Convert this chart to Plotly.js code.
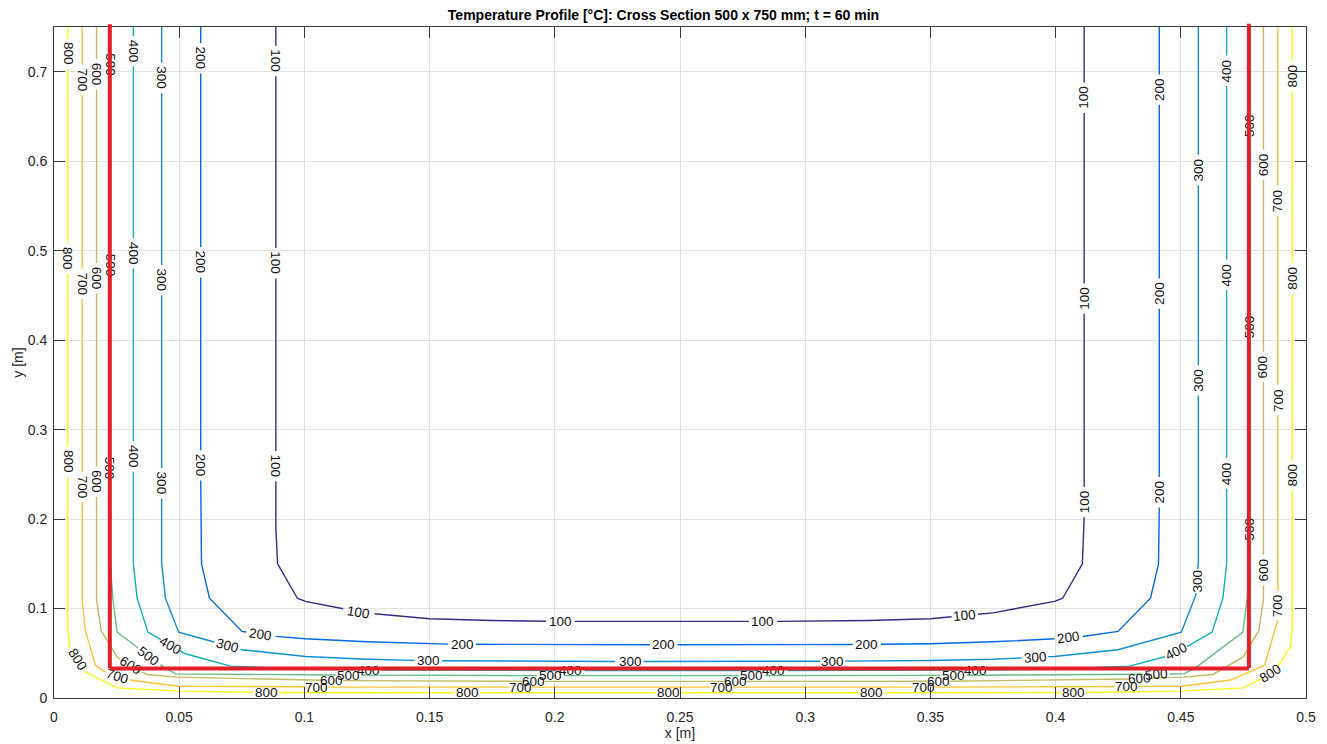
<!DOCTYPE html>
<html><head><meta charset="utf-8">
<script src="https://cdn.plot.ly/plotly-3.0.1.min.js"></script>
<style>html,body{margin:0;padding:0;background:#fff}#chart{width:1327px;height:744px}</style>
</head><body><div id="chart"></div>
<script>
// ---- contour levels [°C] ----
const levels = [100, 200, 300, 400, 500, 600, 700, 800];

// ---- contour line coordinates (m), null = gap under a label ----
const x100 = [0.0886,0.0886,null,0.0886,0.0886,null,0.0886,0.0886,null,0.0886,0.0886,0.0893,0.0972,0.1004,0.1155,null,0.1280,0.15,0.175,0.1965,null,0.2079,0.25,0.2775,null,0.2888,0.325,0.35,0.3585,null,0.3690,0.375,0.3996,0.4028,0.4107,0.4114,0.4114,null,0.4114,0.4114,null,0.4114,0.4114,null,0.4114,0.4114];
const y100 = [0.75,0.729,null,0.695,0.503,null,0.469,0.276,null,0.242,0.19,0.150,0.1115,0.108,0.0997,null,0.0941,0.0886,0.0866,0.0858,null,0.0857,0.0856,0.0857,null,0.0857,0.0866,0.0886,0.0908,null,0.0936,0.0952,0.108,0.1115,0.150,0.19,0.202,null,0.236,0.4295,null,0.4635,0.654,null,0.688,0.75];

const x200 = [0.0586,0.0586,null,0.0586,0.0586,null,0.0586,0.0586,null,0.0586,0.0589,0.0621,0.0751,0.0768,null,0.0885,0.1004,0.125,0.15,0.1575,null,0.1685,0.2,0.238,null,0.249,0.30,0.319,null,0.3303,0.35,0.375,0.3996,null,0.4108,0.4249,0.4379,0.4411,0.4414,null,0.4414,0.4414,null,0.4414,0.4414,null,0.4414,0.4414];
const y200 = [0.75,0.732,null,0.698,0.504,null,0.470,0.277,null,0.243,0.150,0.1115,0.0744,0.0737,null,0.0689,0.0662,0.0628,0.0606,0.0602,null,0.0600,0.0596,0.0595,null,0.0595,0.0596,0.0598,null,0.0600,0.0606,0.0628,0.0662,null,0.0688,0.0744,0.1115,0.150,0.213,null,0.247,0.435,null,0.469,0.663,null,0.697,0.75];

const x300 = [0.043,0.043,null,0.043,0.043,null,0.043,0.043,null,0.043,0.043,0.0445,0.0498,0.0640,null,0.0745,0.0751,0.1004,0.125,0.144,null,0.155,0.2,0.224,null,0.2355,0.28,0.306,null,0.316,0.35,0.375,0.3865,null,0.397,0.3996,0.4249,0.4502,0.4555,0.4562,null,0.4568,0.457,0.457,null,0.457,0.457,null,0.457,0.457];
const y300 = [0.75,0.71,null,0.676,0.484,null,0.45,0.257,null,0.223,0.150,0.1115,0.0736,0.0626,null,0.0544,0.0539,0.0464,0.0433,0.0420,null,0.0417,0.0410,0.0408,null,0.0408,0.0409,0.0411,null,0.0412,0.0419,0.0433,0.0448,null,0.0462,0.0464,0.0539,0.0736,0.1115,0.117,null,0.144,0.150,0.338,null,0.372,0.573,null,0.607,0.75];

const x400 = [0.0317,0.0317,null,0.0317,0.0317,null,0.0317,0.0317,null,0.0317,0.0317,0.0332,0.0375,0.0427,null,0.0503,0.0525,0.0705,0.1004,0.1205,null,0.131,0.15,0.2005,null,0.212,0.2815,null,0.293,0.35,0.362,null,0.3735,0.3996,0.4295,0.4437,null,0.4525,0.4625,0.4668,0.4683,0.4683,null,0.4683,0.4683,null,0.4683,0.4683,null,0.4683,0.4683];
const y400 = [0.75,0.74,null,0.706,0.514,null,0.48,0.287,null,0.253,0.150,0.1115,0.0736,0.0652,null,0.0529,0.0494,0.0356,0.0322,0.0315,null,0.0312,0.0310,0.0308,null,0.0308,0.0308,null,0.0308,0.0310,0.0312,null,0.0313,0.0322,0.0356,0.0461,null,0.0575,0.0736,0.1115,0.150,0.234,null,0.268,0.456,null,0.49,0.684,null,0.718,0.75];

const x500 = [0.0225,0.0225,null,0.0225,0.0225,null,0.0225,0.0225,null,0.0225,0.0225,0.0235,0.0252,0.0335,null,0.0425,0.0438,0.0487,0.1004,0.1125,null,0.1228,0.15,0.193,null,0.2035,0.2735,null,0.284,0.35,0.354,null,0.3645,0.3996,0.435,null,0.4455,0.4513,0.4562,0.4665,0.4748,0.4765,0.4775,0.4775,null,0.4775,0.4775,null,0.4775,0.4775,null,0.4775,0.4775];
const y500 = [0.75,0.725,null,0.691,0.501,null,0.467,0.274,null,0.24,0.150,0.1115,0.0736,0.0562,null,0.0373,0.0345,0.0270,0.0259,0.0257,null,0.0256,0.0252,0.0251,null,0.0250,0.0250,null,0.0250,0.0252,0.0253,null,0.0254,0.0259,0.0265,null,0.0268,0.0270,0.0345,0.0562,0.0736,0.1115,0.150,0.172,null,0.206,0.398,null,0.432,0.623,null,0.657,0.75];

const x600 = [0.017,0.017,null,0.017,0.017,null,0.017,0.017,null,0.017,0.017,0.0188,0.0252,0.0262,null,0.0352,0.0372,0.0487,0.1004,0.1065,null,0.1155,0.15,0.187,null,0.196,0.2675,null,0.2765,0.3487,null,0.3577,0.3996,0.4292,null,0.4382,0.4513,0.4628,0.4748,0.4812,0.483,0.483,null,0.483,0.483,null,0.483,0.483,null,0.483,0.483];
const y600 = [0.75,0.714,null,0.68,0.486,null,0.452,0.259,null,0.225,0.11,0.0755,0.0457,0.0433,null,0.0290,0.0263,0.0233,0.0203,0.0199,null,0.0194,0.0188,0.0186,null,0.0186,0.0186,null,0.0186,0.0187,null,0.0188,0.0203,0.0213,null,0.0222,0.0233,0.0263,0.0457,0.0755,0.11,0.126,null,0.16,0.353,null,0.387,0.579,null,0.613,0.75];

const x700 = [0.01125,0.01125,null,0.01125,0.01125,null,0.01125,0.01125,null,0.01125,0.01125,0.0125,0.0166,0.0206,null,0.0303,0.0498,0.1005,null,0.1095,0.15,0.1817,null,0.1907,0.2622,null,0.2712,0.3427,null,0.3517,0.4,0.4239,null,0.4329,0.4502,0.4697,0.4834,0.4875,0.48875,null,0.48875,0.48875,null,0.48875,0.48875,null,0.48875,0.48875];
const y700 = [0.75,0.708,null,0.674,0.48,null,0.446,0.253,null,0.219,0.11,0.0755,0.0364,0.0289,null,0.0201,0.0132,0.0125,null,0.0122,0.0121,0.0121,null,0.0121,0.0121,null,0.0121,0.0121,null,0.0122,0.0125,0.0128,null,0.0130,0.0132,0.0201,0.0364,0.0755,0.087,null,0.12,0.316,null,0.35,0.539,null,0.573,0.75];

const x800 = [0.0055,0.0055,null,0.0055,0.0055,null,0.0055,0.0055,null,0.0055,0.0055,0.0063,0.0066,null,0.0123,0.0126,0.0252,0.05,0.0797,null,0.0897,0.1,0.16,null,0.17,0.2404,null,0.2504,0.3216,null,0.3316,0.4021,null,0.4121,0.45,0.4748,0.4825,null,0.4885,0.4937,0.4945,0.4945,null,0.4945,0.4945,null,0.4945,0.4945,null,0.4945,0.4945];
const y800 = [0.75,0.737,null,0.703,0.508,null,0.474,0.281,null,0.247,0.075,0.0569,0.0555,null,0.0303,0.029,0.0113,0.0077,0.0065,null,0.0062,0.0061,0.0059,null,0.0058,0.0058,null,0.0058,0.0058,null,0.0059,0.0061,null,0.0062,0.0077,0.0113,0.0219,null,0.0340,0.0569,0.075,0.232,null,0.266,0.452,null,0.486,0.678,null,0.712,0.75];

// ---- contour label positions (m) and rotation (deg) ----
const lx100 = [0.0886,0.0886,0.0886,0.1217,0.2022,0.2831,0.3637,0.4114,0.4114,0.4114];
const ly100 = [0.712,0.486,0.259,0.0960,0.0857,0.0857,0.0922,0.219,0.4465,0.671];
const la100 = [90,90,90,9,0,0,-5,-90,-90,-90];
const lx200 = [0.0586,0.0586,0.0586,0.0826,0.163,0.2434,0.3246,0.4052,0.4414,0.4414,0.4414];
const ly200 = [0.715,0.487,0.260,0.0713,0.0600,0.0595,0.0598,0.0675,0.230,0.452,0.680];
const la200 = [90,90,90,8,0,0,0,-8,-90,-90,-90];
const lx300 = [0.043,0.043,0.043,0.0692,0.1496,0.2301,0.311,0.3918,0.4566,0.457,0.457];
const ly300 = [0.693,0.467,0.240,0.0585,0.0418,0.0408,0.0411,0.0455,0.1305,0.355,0.59];
const la300 = [90,90,90,15,0,0,0,-4,-90,-90,-90];
const lx400 = [0.0317,0.0317,0.0317,0.0465,0.1257,0.2062,0.2873,0.3679,0.4481,0.4683,0.4683,0.4683];
const ly400 = [0.723,0.497,0.270,0.0590,0.0312,0.0308,0.0308,0.0312,0.0518,0.2508,0.4726,0.701];
const la400 = [90,90,90,30,0,0,0,0,-27,-90,-90,-90];
const lx500 = [0.0225,0.0225,0.0225,0.0379,0.1177,0.1982,0.2787,0.3592,0.4404,0.4775,0.4775,0.4775];
const ly500 = [0.708,0.484,0.257,0.0467,0.0256,0.0250,0.0250,0.0253,0.0267,0.189,0.415,0.640];
const la500 = [90,90,90,37,0,0,0,0,-5,-90,-90,-90];
const lx600 = [0.017,0.017,0.017,0.0306,0.111,0.1915,0.272,0.3532,0.4337,0.483,0.483,0.483];
const ly600 = [0.697,0.469,0.242,0.0360,0.0196,0.0186,0.0186,0.0187,0.0217,0.143,0.370,0.596];
const la600 = [90,90,90,32,0,0,0,0,-3,-90,-90,-90];
const lx700 = [0.01125,0.01125,0.01125,0.0254,0.105,0.1862,0.2667,0.3472,0.4284,0.48875,0.48875,0.48875];
const ly700 = [0.691,0.463,0.236,0.0245,0.0123,0.0121,0.0121,0.0121,0.0129,0.1035,0.333,0.556];
const la700 = [90,90,90,18,0,0,0,0,0,-90,-90,-90];
const lx800 = [0.0055,0.0055,0.0055,0.0094,0.0847,0.165,0.2454,0.3266,0.4071,0.4857,0.4945,0.4945,0.4945];
const ly800 = [0.72,0.491,0.264,0.0429,0.0063,0.0058,0.0058,0.0058,0.0061,0.0275,0.249,0.469,0.695];
const la800 = [90,90,90,58,0,0,0,0,0,-32,-90,-90,-90];

// ---- red outline (m) ----
const redX = [0.0223, 0.0223, 0.4772, 0.4772];
const redY = [0.7535, 0.033, 0.033, 0.7535];

// ---- styles ----
const parula = ['#352a87','#0268e1','#108ed2','#0faeb9','#65be86','#c0bc60','#ffc337','#f9fb0e'];
const FONT = '"Liberation Sans", Arial, Helvetica, sans-serif';

const lineX = [x100,x200,x300,x400,x500,x600,x700,x800];
const lineY = [y100,y200,y300,y400,y500,y600,y700,y800];
const labX = [lx100,lx200,lx300,lx400,lx500,lx600,lx700,lx800];
const labY = [ly100,ly200,ly300,ly400,ly500,ly600,ly700,ly800];
const labA = [la100,la200,la300,la400,la500,la600,la700,la800];

const traces = levels.map((lv, i) => ({
  type: 'scatter', mode: 'lines', name: String(lv),
  x: lineX[i], y: lineY[i], connectgaps: false,
  line: {color: parula[i], width: 1.4},
  hoverinfo: 'skip', showlegend: false
}));

const annotations = [];
levels.forEach((lv, i) => {
  labX[i].forEach((xv, j) => {
    annotations.push({
      x: xv, y: labY[i][j], xref: 'x', yref: 'y', text: String(lv),
      showarrow: false, textangle: labA[i][j], xanchor: 'center', yanchor: 'middle',
      font: {family: FONT, size: 13.5, color: '#111'}
    });
  });
});
for (let k = 0; k < redX.length - 1; k++) {
  annotations.push({
    x: redX[k+1], y: redY[k+1], ax: redX[k], ay: redY[k],
    xref: 'x', yref: 'y', axref: 'x', ayref: 'y',
    text: '', showarrow: true, arrowhead: 0, arrowwidth: 4, arrowcolor: '#e3202a',
    standoff: 0, startstandoff: 0, borderpad: 0, font: {size: 1}
  });
}

const axisCommon = {
  showgrid: true, gridcolor: '#e2e2e2', gridwidth: 1, zeroline: false,
  showline: true, linecolor: '#3a3a3a', linewidth: 1, mirror: 'ticks',
  ticks: 'inside', ticklen: 11, tickcolor: '#3a3a3a', tickwidth: 1,
  tickfont: {family: FONT, size: 14, color: '#262626'}
};

const layout = {
  width: 1327, height: 744,
  margin: {l: 54, r: 21, t: 27, b: 46, pad: 0},
  paper_bgcolor: '#ffffff', plot_bgcolor: '#ffffff',
  title: {text: '<b>Temperature Profile [°C]: Cross Section 500 x 750 mm; t = 60 min</b>',
          x: 0.5, xref: 'container', xanchor: 'center', y: 0.98, yref: 'container', yanchor: 'middle',
          font: {family: FONT, size: 14, color: '#000'}},
  xaxis: Object.assign({}, axisCommon, {range: [0, 0.5], tick0: 0, dtick: 0.05, ticklabelstandoff: 6,
          title: {text: 'x [m]', font: {family: FONT, size: 14, color: '#262626'}, standoff: 4}}),
  yaxis: Object.assign({}, axisCommon, {range: [0, 0.75], tick0: 0, dtick: 0.1, ticklabelstandoff: 3,
          title: {text: 'y [m]', font: {family: FONT, size: 14, color: '#262626'}, standoff: 0}}),
  annotations: annotations,
  showlegend: false
};

Plotly.newPlot('chart', traces, layout, {staticPlot: true, displayModeBar: false});
</script>
</body></html>
